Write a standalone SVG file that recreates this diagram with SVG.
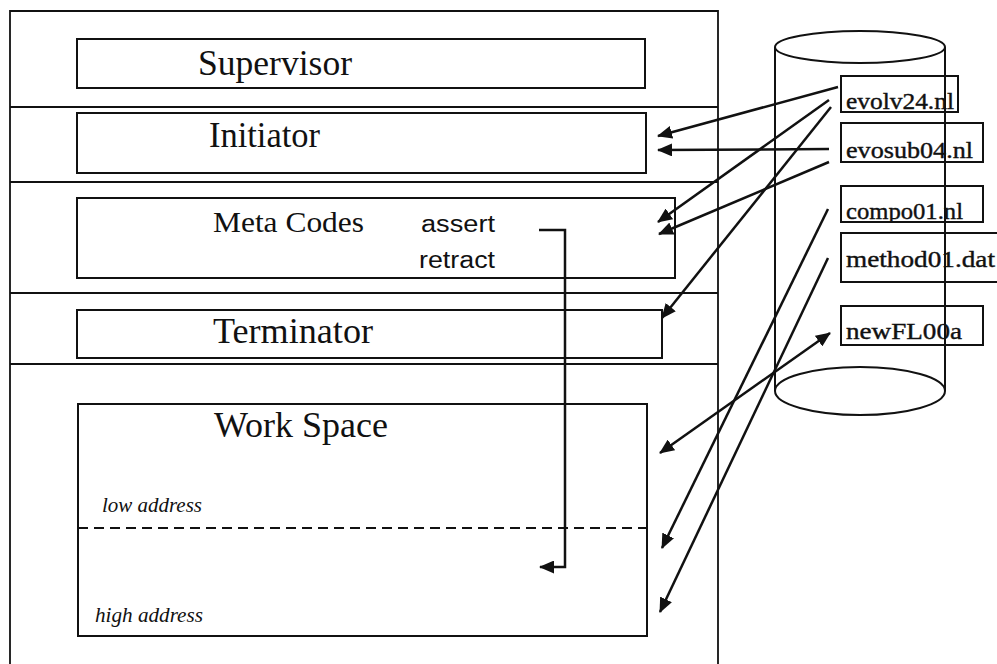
<svg xmlns="http://www.w3.org/2000/svg" width="997" height="664" viewBox="0 0 997 664">
  <style>
    .frame { fill: none; stroke: #111; stroke-width: 1.8; }
    .box { fill: none; stroke: #111; stroke-width: 2; }
    .file { fill: #fff; stroke: #111; stroke-width: 2; }
    .title { font-family: "Liberation Serif", "Times New Roman", serif; font-size: 36px; fill: #111; }
    .meta { font-family: "Liberation Serif", "Times New Roman", serif; font-size: 30px; fill: #111; }
    .op { font-family: "Liberation Sans", Arial, sans-serif; font-size: 23px; fill: #111; }
    .addr { font-family: "Liberation Serif", "Times New Roman", serif; font-style: italic; font-size: 20px; fill: #111; }
    .fname { font-family: "Liberation Serif", "Times New Roman", serif; font-size: 24px; fill: #111; stroke: #111; stroke-width: 0.4; }
    .conn { fill: none; stroke: #111; stroke-width: 2.5; }
    .dash { fill: none; stroke: #111; stroke-width: 2; stroke-dasharray: 10 6; }
  </style>
  <defs>
    <marker id="head" markerUnits="userSpaceOnUse" markerWidth="15" markerHeight="13" refX="14" refY="6.5" orient="auto-start-reverse">
      <path d="M0,0 L15,6.5 L0,13 Z" fill="#111"/>
    </marker>
    <clipPath id="c1"><rect x="841" y="76" width="117" height="36"/></clipPath>
    <clipPath id="c2"><rect x="841" y="123" width="142" height="39"/></clipPath>
    <clipPath id="c3"><rect x="841" y="186" width="142" height="36"/></clipPath>
    <clipPath id="c4"><rect x="841" y="233" width="160" height="49"/></clipPath>
    <clipPath id="c5"><rect x="841" y="306" width="142" height="39"/></clipPath>
  </defs>

  <rect width="997" height="664" fill="#fff"/>

  <!-- memory frame with layer separators -->
  <g id="frame">
    <path class="frame" d="M10,664 V11 H718 V664"/>
    <line class="frame" x1="10" y1="107" x2="718" y2="107"/>
    <line class="frame" x1="10" y1="182" x2="718" y2="182"/>
    <line class="frame" x1="10" y1="293" x2="718" y2="293"/>
    <line class="frame" x1="10" y1="364" x2="718" y2="364"/>
  </g>

  <g id="supervisor">
    <rect class="box" x="77" y="39" width="568" height="49"/>
    <text class="title" x="198" y="75" font-size="37" textLength="154" lengthAdjust="spacingAndGlyphs">Supervisor</text>
  </g>

  <g id="initiator">
    <rect class="box" x="77" y="113" width="569" height="60"/>
    <text class="title" x="209" y="147" textLength="111" lengthAdjust="spacingAndGlyphs">Initiator</text>
  </g>

  <g id="meta-codes">
    <rect class="box" x="77" y="198" width="598" height="80"/>
    <text class="meta" x="213" y="232" textLength="151" lengthAdjust="spacingAndGlyphs">Meta Codes</text>
    <text class="op" x="421" y="232" textLength="74" lengthAdjust="spacingAndGlyphs">assert</text>
    <text class="op" x="419" y="268" textLength="76" lengthAdjust="spacingAndGlyphs">retract</text>
  </g>

  <g id="terminator">
    <rect class="box" x="77" y="310" width="585" height="48"/>
    <text class="title" x="213" y="343" font-size="34" textLength="160" lengthAdjust="spacingAndGlyphs">Terminator</text>
  </g>

  <g id="work-space">
    <rect class="box" x="78" y="404" width="569" height="232"/>
    <text class="title" x="214" y="437" font-size="34" textLength="174" lengthAdjust="spacingAndGlyphs">Work Space</text>
    <text class="addr" x="102" y="512" textLength="100" lengthAdjust="spacingAndGlyphs">low address</text>
    <line class="dash" x1="78" y1="528" x2="647" y2="528"/>
    <text class="addr" x="95" y="622" textLength="108" lengthAdjust="spacingAndGlyphs">high address</text>
  </g>

  <!-- file store: cylinder holding the program and data files -->
  <g id="file-store">
    <ellipse class="box" cx="860" cy="47" rx="85" ry="16"/>
    <ellipse class="box" cx="860" cy="391" rx="85" ry="24"/>
    <line class="box" x1="775" y1="47" x2="775" y2="391"/>
  </g>

  <g id="evolv24">
    <rect class="file" x="841" y="76" width="117" height="36"/>
    <text class="fname" x="846" y="109" textLength="108" lengthAdjust="spacingAndGlyphs" clip-path="url(#c1)">evolv24.nl</text>
  </g>
  <g id="evosub04">
    <rect class="file" x="841" y="123" width="142" height="39"/>
    <text class="fname" x="846" y="158" textLength="127" lengthAdjust="spacingAndGlyphs" clip-path="url(#c2)">evosub04.nl</text>
  </g>
  <g id="compo01">
    <rect class="file" x="841" y="186" width="142" height="36"/>
    <text class="fname" x="846" y="219" textLength="117" lengthAdjust="spacingAndGlyphs" clip-path="url(#c3)">compo01.nl</text>
  </g>
  <g id="method01">
    <rect class="file" x="841" y="233" width="160" height="49"/>
    <text class="fname" x="846" y="267" textLength="149" lengthAdjust="spacingAndGlyphs" clip-path="url(#c4)">method01.dat</text>
  </g>
  <g id="newFL00a">
    <rect class="file" x="841" y="306" width="142" height="39"/>
    <text class="fname" x="846" y="339" textLength="116" lengthAdjust="spacingAndGlyphs" clip-path="url(#c5)">newFL00a</text>
  </g>

  <!-- right side of the cylinder runs over the file labels -->
  <line class="box" x1="945" y1="47" x2="945" y2="391"/>

  <g id="connectors">
    <line class="conn" x1="838" y1="87" x2="658" y2="136" marker-end="url(#head)"/>
    <line class="conn" x1="829" y1="149" x2="658" y2="150" marker-end="url(#head)"/>
    <line class="conn" x1="829" y1="100" x2="658" y2="222" marker-end="url(#head)"/>
    <line class="conn" x1="829" y1="162" x2="659" y2="234" marker-end="url(#head)"/>
    <line class="conn" x1="831" y1="107" x2="662" y2="318" marker-end="url(#head)"/>
    <line class="conn" x1="660" y1="453" x2="830" y2="333" marker-start="url(#head)" marker-end="url(#head)"/>
    <line class="conn" x1="828" y1="209" x2="662" y2="548" marker-end="url(#head)"/>
    <line class="conn" x1="828" y1="258" x2="660" y2="612" marker-end="url(#head)"/>
    <path class="conn" d="M539,230 H565 V567 H540" marker-end="url(#head)"/>
  </g>
</svg>
